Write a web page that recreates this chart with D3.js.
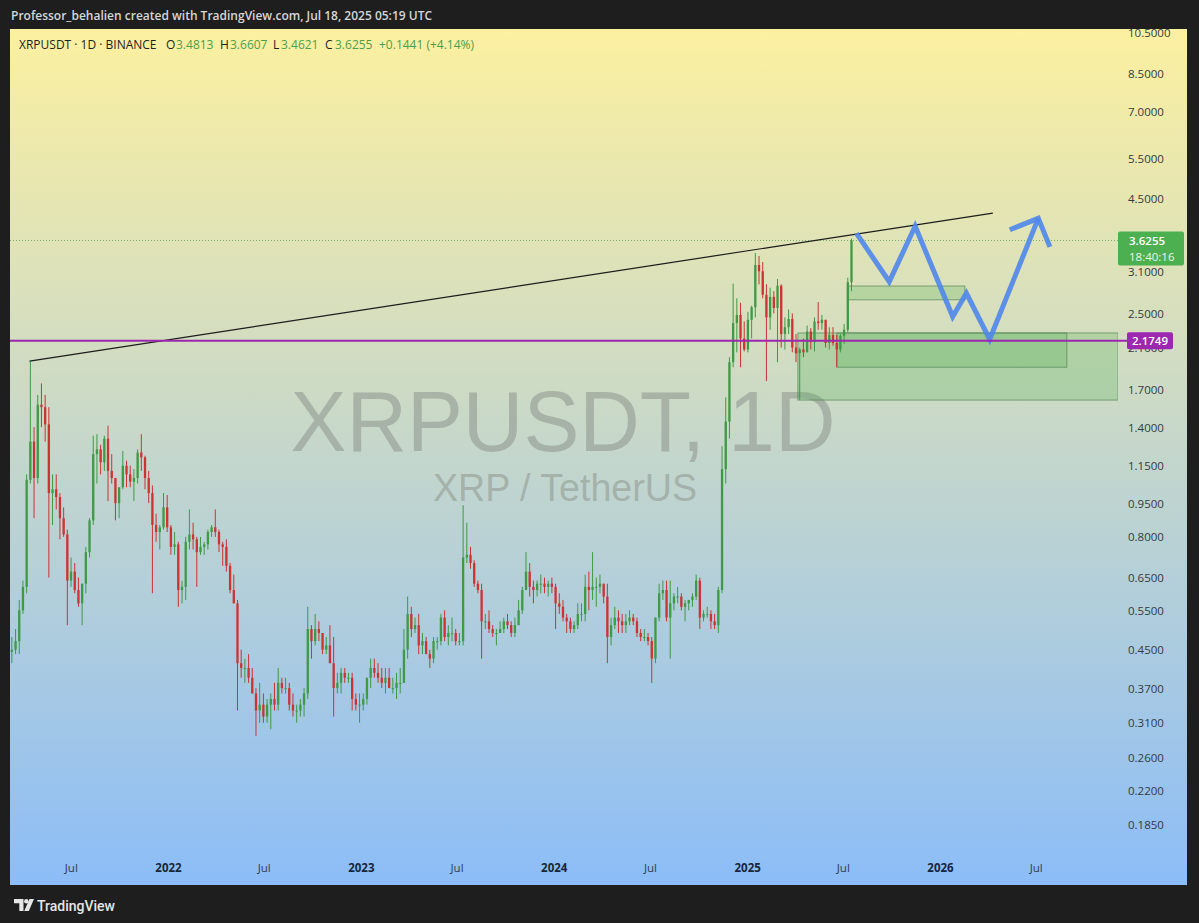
<!DOCTYPE html>
<html>
<head>
<meta charset="utf-8">
<script src="https://cdn.jsdelivr.net/npm/d3@7"></script>
<style>
  html, body { margin: 0; padding: 0; background: #1e1e1e; }
  svg { display: block; }
</style>
</head>
<body>
<svg id="chart" width="1199" height="923"></svg>
<script>
// ---- XRPUSDT weekly OHLC (open of each week = previous week's close) ----
const firstWeek = "2021-03-08";
const firstOpen = 0.445;

const weekHigh = [
  // 2021
  0.48,0.50,0.58,0.64,1.10,1.96,1.40,1.65,1.75,1.65,1.55,1.10,1.10,1.00,0.93,0.83,0.72,0.70,0.65,0.63,0.76,0.88,
  1.34,1.35,1.28,1.34,1.41,1.22,1.08,1.03,1.24,1.18,1.15,1.13,1.25,1.35,1.21,1.12,1.04,0.90,0.85,1.00,0.99,
  // 2022
  0.85,0.82,0.78,0.64,0.80,0.92,0.86,0.80,0.80,0.78,0.83,0.85,0.92,0.83,0.78,0.79,0.70,0.66,0.58,0.45,0.43,0.44,
  0.41,0.37,0.38,0.36,0.35,0.36,0.38,0.41,0.39,0.39,0.38,0.36,0.34,0.35,0.37,0.56,0.51,0.54,0.52,0.49,0.48,0.51,
  0.48,0.40,0.41,0.41,0.40,0.40,0.36,0.36,
  // 2023
  0.36,0.39,0.43,0.43,0.42,0.41,0.41,0.41,0.39,0.40,0.41,0.50,0.59,0.56,0.53,0.54,0.49,0.48,0.45,0.48,0.48,0.54,
  0.55,0.51,0.53,0.50,0.49,0.94,0.86,0.76,0.71,0.64,0.63,0.54,0.55,0.51,0.50,0.52,0.53,0.54,0.52,0.53,0.58,0.62,
  0.74,0.70,0.64,0.64,0.66,0.65,0.64,0.65,
  // 2024
  0.63,0.60,0.58,0.54,0.53,0.52,0.57,0.57,0.66,0.67,0.74,0.65,0.66,0.63,0.63,0.53,0.56,0.55,0.54,0.54,0.55,0.54,
  0.53,0.50,0.50,0.49,0.48,0.53,0.63,0.64,0.64,0.64,0.60,0.62,0.60,0.58,0.58,0.60,0.66,0.65,0.55,0.56,0.55,0.54,
  0.62,1.27,1.63,2.00,2.91,2.70,2.64,2.40,
  // 2025
  2.52,2.60,3.40,3.35,3.25,2.90,2.85,2.80,2.98,2.90,2.45,2.55,2.50,2.25,2.10,2.20,2.35,2.32,2.45,2.65,2.48,2.42,
  2.33,2.33,2.24,2.25,2.37,3.00,3.6607
];

const weekLow = [
  // 2021
  0.42,0.44,0.44,0.54,0.60,1.05,0.88,1.05,1.40,1.30,0.65,0.85,0.92,0.79,0.80,0.51,0.62,0.60,0.56,0.51,0.60,0.72,
  0.85,1.05,1.10,1.12,0.96,1.05,0.87,0.88,1.02,1.03,1.03,0.96,1.05,1.12,1.02,0.95,0.60,0.78,0.75,0.83,0.82,
  // 2022
  0.73,0.73,0.56,0.57,0.58,0.75,0.75,0.62,0.73,0.73,0.75,0.80,0.80,0.74,0.69,0.67,0.60,0.57,0.33,0.39,0.38,0.38,
  0.36,0.29,0.31,0.31,0.31,0.30,0.33,0.33,0.36,0.36,0.33,0.32,0.31,0.32,0.32,0.35,0.43,0.46,0.47,0.44,0.44,0.42,
  0.32,0.36,0.36,0.38,0.38,0.33,0.33,0.31,
  // 2023
  0.33,0.34,0.37,0.39,0.38,0.37,0.36,0.37,0.36,0.35,0.36,0.38,0.43,0.48,0.49,0.44,0.44,0.44,0.41,0.42,0.45,0.46,
  0.47,0.46,0.47,0.46,0.46,0.46,0.70,0.68,0.62,0.60,0.43,0.50,0.49,0.48,0.46,0.49,0.49,0.50,0.48,0.48,0.51,0.54,
  0.61,0.59,0.57,0.59,0.60,0.60,0.59,0.60,
  // 2024
  0.50,0.54,0.52,0.49,0.49,0.49,0.50,0.52,0.52,0.55,0.58,0.56,0.60,0.57,0.42,0.46,0.50,0.49,0.49,0.49,0.51,0.51,
  0.48,0.47,0.47,0.46,0.38,0.42,0.52,0.58,0.52,0.43,0.55,0.57,0.55,0.52,0.55,0.56,0.58,0.50,0.52,0.53,0.50,0.50,
  0.49,0.60,1.05,1.32,1.90,2.05,1.90,2.06,
  // 2025
  2.05,2.20,2.45,2.90,2.70,1.77,2.30,2.50,1.95,2.10,2.08,2.25,2.05,1.95,1.61,2.00,2.05,2.08,2.06,2.30,2.30,2.10,
  2.08,2.12,1.90,2.05,2.14,2.27,2.80
];

const weekClose = [
  // 2021
  0.45,0.47,0.55,0.62,1.07,1.30,1.08,1.57,1.55,1.42,1.00,1.02,0.98,0.88,0.81,0.64,0.67,0.61,0.57,0.63,0.74,0.87,
  1.22,1.25,1.17,1.32,1.12,1.08,0.95,1.03,1.15,1.10,1.06,1.08,1.23,1.20,1.08,1.00,0.85,0.82,0.84,0.93,0.84,
  // 2022
  0.76,0.77,0.61,0.62,0.78,0.81,0.79,0.74,0.76,0.77,0.82,0.84,0.82,0.77,0.76,0.69,0.61,0.57,0.42,0.41,0.41,0.39,
  0.36,0.33,0.34,0.32,0.34,0.35,0.34,0.38,0.37,0.37,0.34,0.33,0.33,0.34,0.36,0.50,0.47,0.50,0.49,0.45,0.46,0.42,
  0.37,0.38,0.40,0.39,0.39,0.35,0.34,0.34,
  // 2023
  0.35,0.39,0.41,0.40,0.39,0.38,0.39,0.37,0.37,0.38,0.38,0.45,0.54,0.50,0.51,0.46,0.47,0.44,0.43,0.47,0.47,0.53,
  0.48,0.49,0.49,0.47,0.47,0.72,0.73,0.70,0.63,0.61,0.52,0.52,0.50,0.49,0.49,0.50,0.52,0.51,0.49,0.51,0.55,0.61,
  0.67,0.62,0.61,0.63,0.63,0.62,0.63,0.62,
  // 2024
  0.57,0.56,0.53,0.52,0.50,0.51,0.54,0.54,0.62,0.61,0.62,0.62,0.63,0.59,0.48,0.51,0.53,0.52,0.51,0.52,0.53,0.52,
  0.49,0.48,0.48,0.47,0.43,0.53,0.60,0.61,0.53,0.57,0.59,0.59,0.56,0.57,0.58,0.59,0.64,0.53,0.54,0.54,0.52,0.51,
  0.61,1.13,1.44,1.95,2.38,2.48,2.20,2.08,
  // 2025
  2.42,2.58,3.20,3.10,2.75,2.45,2.72,2.57,2.88,2.25,2.33,2.43,2.10,2.04,2.08,2.05,2.28,2.16,2.40,2.38,2.42,2.15,
  2.24,2.15,2.08,2.23,2.30,2.93,3.6255
];

// ---- axes ----
const priceTicks = [10.5, 8.5, 7, 5.5, 4.5, 3.7, 3.1, 2.5, 2.1, 1.7, 1.4, 1.15, 0.95, 0.8, 0.65, 0.55, 0.45, 0.37, 0.31, 0.26, 0.22, 0.185];
const timeTicks = ["2021-07-01","2022-01-01","2022-07-01","2023-01-01","2023-07-01","2024-01-01",
                   "2024-07-01","2025-01-01","2025-07-01","2026-01-01","2026-07-01"];

// ---- drawings ----
const lastPrice = 3.6255;
const countdown = "18:40:16";
const levelPrice = 2.1749;
const trendDates = ["2021-04-14", "2026-04-11"];
const trendPrices = [1.96, 4.17];
const zoneStart  = ["2025-04-07", "2025-06-20", "2025-07-11"];
const zoneEnd    = ["2026-12-04", "2026-08-29", "2026-02-17"];
const zoneTop    = [2.263, 2.263, 2.875];
const zoneBottom = [1.607, 1.90, 2.68];
const pathDates  = ["2025-07-27","2025-09-27","2025-11-15","2026-01-25","2026-02-20","2026-04-05","2026-07-06"];
const pathPrices = [3.76, 2.94, 3.90, 2.46, 2.77, 2.19, 4.06];
const arrowDates  = ["2026-05-13","2026-07-06","2026-07-28"];
const arrowPrices = [3.83, 4.06, 3.51];

const legendParts = [
  {t: "XRPUSDT · 1D · BINANCE", x: 19, c: "#1f1f1f"},
  {t: "O", x: 166, c: "#1f1f1f"}, {t: "3.4813", x: 176, c: "#4a9e4e"},
  {t: "H", x: 220, c: "#1f1f1f"}, {t: "3.6607", x: 230, c: "#4a9e4e"},
  {t: "L", x: 273, c: "#1f1f1f"}, {t: "3.4621", x: 281, c: "#4a9e4e"},
  {t: "C", x: 325, c: "#1f1f1f"}, {t: "3.6255", x: 335, c: "#4a9e4e"},
  {t: "+0.1441 (+4.14%)", x: 379, c: "#4a9e4e"}
];

const UP = "#3e9a44", DOWN = "#cc3333";
const pane = {left: 10, top: 29, right: 1187, bottom: 885, plotRight: 1118};

const svg = d3.select("#chart");
const defs = svg.append("defs");

const grad = defs.append("linearGradient")
  .attr("id", "bg").attr("gradientUnits", "userSpaceOnUse")
  .attr("x1", 0).attr("y1", pane.top).attr("x2", 0).attr("y2", pane.bottom);
grad.append("stop").attr("offset", 0).attr("stop-color", "#fcf0a0");
grad.append("stop").attr("offset", 1).attr("stop-color", "#8cbdf8");

defs.append("clipPath").attr("id", "plotClip")
  .append("rect").attr("x", pane.left).attr("y", pane.top)
  .attr("width", pane.plotRight - pane.left).attr("height", 826);
defs.append("clipPath").attr("id", "paneClip")
  .append("rect").attr("x", pane.left).attr("y", pane.top)
  .attr("width", pane.right - pane.left).attr("height", pane.bottom - pane.top);

// frame and header
svg.append("rect").attr("width", 1199).attr("height", 923).attr("fill", "#1e1e1e");
svg.append("text").attr("x", 11).attr("y", 20)
  .attr("font-family", "'Open Sans', sans-serif").attr("font-size", 12).attr("font-weight", 600)
  .attr("fill", "#d6d6d6")
  .text("Professor_behalien created with TradingView.com, Jul 18, 2025 05:19 UTC");

svg.append("rect").attr("x", pane.left).attr("y", pane.top)
  .attr("width", pane.right - pane.left).attr("height", pane.bottom - pane.top)
  .attr("fill", "url(#bg)");

// scales
const x = d3.scaleUtc()
  .domain([new Date("2022-01-01"), new Date("2026-01-01")])
  .range([168, 940]);
const y = d3.scaleLog()
  .domain([0.185, 10.5])
  .range([824, 32]);

const paneG = svg.append("g").attr("clip-path", "url(#paneClip)");

// watermark
const wm = paneG.append("g").attr("fill", "#8c948c").attr("fill-opacity", 0.55)
  .attr("font-family", "'Liberation Sans', Arial, sans-serif").attr("text-anchor", "middle");
wm.append("text").attr("x", 563).attr("y", 451).attr("font-size", 86)
  .attr("textLength", 545).attr("lengthAdjust", "spacingAndGlyphs").text("XRPUSDT, 1D");
wm.append("text").attr("x", 565).attr("y", 501).attr("font-size", 38)
  .attr("textLength", 264).attr("lengthAdjust", "spacingAndGlyphs").text("XRP / TetherUS");

// price axis labels
const yAxis = d3.axisRight(y).tickValues(priceTicks).tickFormat(d3.format(".4f")).tickSize(0).tickPadding(0);
const yAxisG = paneG.append("g").attr("transform", "translate(1128,0)").call(yAxis);
yAxisG.select(".domain").remove();
yAxisG.selectAll("text").attr("font-family", "'Open Sans', sans-serif")
  .attr("font-size", 11.5).attr("fill", "#333a40").attr("dy", "0.35em");

// time axis labels
const timeDates = timeTicks.map(d => new Date(d));
const xAxis = d3.axisBottom(x).tickValues(timeDates).tickSize(0).tickPadding(0)
  .tickFormat(d => d.getUTCMonth() === 0 ? d3.utcFormat("%Y")(d) : "Jul");
const xAxisG = paneG.append("g").attr("transform", "translate(0,864)").call(xAxis);
xAxisG.select(".domain").remove();
xAxisG.selectAll("text").attr("font-family", "'Open Sans', sans-serif").attr("font-size", 11.5)
  .attr("fill", d => d.getUTCMonth() === 0 ? "#17263a" : "#2e3d50")
  .attr("font-weight", d => d.getUTCMonth() === 0 ? 700 : 400);

// legend line
const legend = paneG.append("text").attr("y", 49)
  .attr("font-family", "'Open Sans', sans-serif").attr("font-size", 12);
legendParts.forEach(p => legend.append("tspan").attr("x", p.x).attr("fill", p.c).text(p.t));

// plot area
const plot = svg.append("g").attr("clip-path", "url(#plotClip)");

// zones
zoneStart.forEach((s, i) => {
  const x0 = x(new Date(s)), x1 = x(new Date(zoneEnd[i]));
  const y0 = y(zoneTop[i]), y1 = y(zoneBottom[i]);
  plot.append("rect").attr("x", x0).attr("y", y0).attr("width", x1 - x0).attr("height", y1 - y0)
    .attr("fill", "#4caf50").attr("fill-opacity", 0.25)
    .attr("stroke", "#4f7f52").attr("stroke-opacity", 0.65).attr("stroke-width", 1);
});

// last price dotted line
plot.append("line").attr("x1", pane.left).attr("x2", pane.plotRight)
  .attr("y1", y(lastPrice)).attr("y2", y(lastPrice))
  .attr("stroke", "#5aa05c").attr("stroke-opacity", 0.8).attr("stroke-dasharray", "1 2");

// candles
const weeks = d3.utcMonday.range(new Date(firstWeek), d3.utcDay.offset(new Date(firstWeek), 7 * weekClose.length));
const candles = weekClose.map((c, i) => {
  const o = i === 0 ? firstOpen : weekClose[i - 1];
  return {t: d3.utcHour.offset(weeks[i], 84), o, h: weekHigh[i], l: weekLow[i], c};
});
const bodyW = 2.3;
const cg = plot.append("g");
cg.selectAll("line").data(candles).join("line")
  .attr("x1", d => x(d.t)).attr("x2", d => x(d.t))
  .attr("y1", d => y(Math.max(d.h, d.o, d.c))).attr("y2", d => y(Math.min(d.l, d.o, d.c)))
  .attr("stroke", d => d.c >= d.o ? UP : DOWN).attr("stroke-width", 1);
cg.selectAll("rect").data(candles).join("rect")
  .attr("x", d => x(d.t) - bodyW / 2).attr("width", bodyW)
  .attr("y", d => y(Math.max(d.o, d.c)))
  .attr("height", d => Math.max(1, y(Math.min(d.o, d.c)) - y(Math.max(d.o, d.c))))
  .attr("fill", d => d.c >= d.o ? UP : DOWN);

// trend line
plot.append("line")
  .attr("x1", x(new Date(trendDates[0]))).attr("y1", y(trendPrices[0]))
  .attr("x2", x(new Date(trendDates[1]))).attr("y2", y(trendPrices[1]))
  .attr("stroke", "#1c1c1c").attr("stroke-width", 1.2);

// projected path with arrow
const line = d3.line().x(d => x(new Date(d[0]))).y(d => y(d[1]));
plot.append("path").datum(pathDates.map((d, i) => [d, pathPrices[i]]))
  .attr("d", line).attr("fill", "none").attr("stroke", "#4f86ec").attr("stroke-opacity", 0.9)
  .attr("stroke-width", 5).attr("stroke-linejoin", "miter");
plot.append("path").datum(arrowDates.map((d, i) => [d, arrowPrices[i]]))
  .attr("d", line).attr("fill", "none").attr("stroke", "#4f86ec").attr("stroke-opacity", 0.9)
  .attr("stroke-width", 5).attr("stroke-linejoin", "miter");

// horizontal level
svg.append("line").attr("x1", pane.left).attr("x2", 1128)
  .attr("y1", y(levelPrice)).attr("y2", y(levelPrice))
  .attr("stroke", "#9c27b0").attr("stroke-width", 2);

// price badges
const yl = y(lastPrice);
svg.append("rect").attr("x", 1118).attr("y", yl - 9).attr("width", 66).attr("height", 34)
  .attr("rx", 2).attr("fill", "#4caf50");
svg.append("text").attr("x", 1129).attr("y", yl + 4).attr("font-family", "'Open Sans', sans-serif")
  .attr("font-size", 11.5).attr("font-weight", 600).attr("fill", "#ffffff").text(d3.format(".4f")(lastPrice));
svg.append("text").attr("x", 1129).attr("y", yl + 20).attr("font-family", "'Open Sans', sans-serif")
  .attr("font-size", 11.5).attr("fill", "#eaf6ea").text(countdown);

const yv = y(levelPrice);
svg.append("rect").attr("x", 1127).attr("y", yv - 8.5).attr("width", 46).attr("height", 17)
  .attr("rx", 2).attr("fill", "#9c27b0");
svg.append("text").attr("x", 1150).attr("y", yv + 4).attr("text-anchor", "middle")
  .attr("font-family", "'Open Sans', sans-serif").attr("font-size", 11.5).attr("font-weight", 600)
  .attr("fill", "#ffffff").text(d3.format(".4f")(levelPrice));

// footer logo
const logo = svg.append("g").attr("fill", "#e6e6e6");
logo.append("path").attr("d", "M14,899 h9.5 v12 h-4.2 v-7.8 h-5.3 z");
logo.append("circle").attr("cx", 26.3).attr("cy", 901.2).attr("r", 2.2);
logo.append("path").attr("d", "M29.5,899 h4.5 l-5.2,12 h-4.6 z");
svg.append("text").attr("x", 37).attr("y", 910.5).attr("font-family", "Roboto, sans-serif")
  .attr("font-size", 14).attr("font-weight", 500).attr("fill", "#e6e6e6").text("TradingView");
</script>
</body>
</html>
